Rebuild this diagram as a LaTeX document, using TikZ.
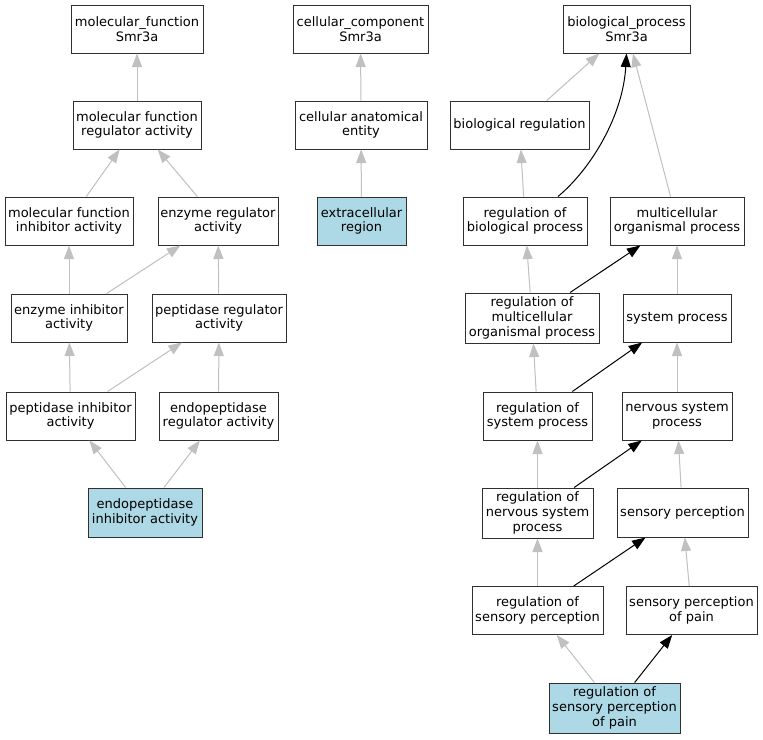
\documentclass[tikz,border=0pt]{standalone}
\usepackage{fontspec}
\setmainfont{DejaVu Sans}
\usetikzlibrary{arrows.meta,calc}
\definecolor{edgegray}{HTML}{C0C0C0}
\definecolor{hilite}{HTML}{ADD8E6}
\definecolor{boxline}{HTML}{303030}
\begin{document}
\begin{tikzpicture}[x=1pt,y=-1pt,
  box/.style={draw=boxline, line width=1pt, fill=white, rectangle, inner sep=0pt, align=center,
    font=\fontsize{13}{14.7}\selectfont},
  hl/.style={box, fill=hilite},
  gedge/.style={draw=edgegray, line width=1pt, -{Triangle[length=13.5pt,width=10pt]}},
  bedge/.style={draw=black, line width=1pt, -{Triangle[length=13.5pt,width=10pt]}}]
\fill[white] (0,0) rectangle (763,739);
\useasboundingbox (0,0) rectangle (763,739);
% molecular function
\node[box, minimum width=132pt, minimum height=48pt] (mfS) at (137,29) {molecular\_function\\Smr3a};
\node[box, minimum width=128pt, minimum height=48pt] (mfreg) at (137,125) {molecular function\\regulator activity};
\node[box, minimum width=128pt, minimum height=48pt] (mfinh) at (69,221) {molecular function\\inhibitor activity};
\node[box, minimum width=120pt, minimum height=48pt] (enzreg) at (218,221) {enzyme regulator\\activity};
\node[box, minimum width=116pt, minimum height=48pt] (enzinh) at (69,318) {enzyme inhibitor\\activity};
\node[box, minimum width=134pt, minimum height=48pt] (pepreg) at (219,318) {peptidase regulator\\activity};
\node[box, minimum width=129pt, minimum height=48pt] (pepinh) at (70.5,416) {peptidase inhibitor\\activity};
\node[box, minimum width=119pt, minimum height=48pt] (endoreg) at (218.5,416) {endopeptidase\\regulator activity};
\node[hl, minimum width=114pt, minimum height=49pt] (endoinh) at (145,512.5) {endopeptidase\\inhibitor activity};
% cellular component
\node[box, minimum width=135pt, minimum height=48pt] (ccS) at (360.5,29) {cellular\_component\\Smr3a};
\node[box, minimum width=132pt, minimum height=48pt] (cae) at (361,125) {cellular anatomical\\entity};
\node[hl, minimum width=89pt, minimum height=48pt] (ext) at (361.5,221) {extracellular\\region};
% biological process
\node[box, minimum width=127pt, minimum height=48pt] (bpS) at (626.5,29) {biological\_process\\Smr3a};
\node[box, minimum width=139pt, minimum height=48pt] (bioreg) at (519.5,125) {biological regulation};
\node[box, minimum width=124pt, minimum height=48pt] (regbp) at (525,221) {regulation of\\biological process};
\node[box, minimum width=134pt, minimum height=48pt] (mop) at (677,221) {multicellular\\organismal process};
\node[box, minimum width=134pt, minimum height=50pt] (regmop) at (532,318) {regulation of\\multicellular\\organismal process};
\node[box, minimum width=108pt, minimum height=48pt] (sysp) at (677,318) {system process};
\node[box, minimum width=109pt, minimum height=48pt] (regsys) at (537.5,416) {regulation of\\system process};
\node[box, minimum width=110pt, minimum height=48pt] (nsp) at (677,416) {nervous system\\process};
\node[box, minimum width=111pt, minimum height=50pt] (regnsp) at (537.5,513) {regulation of\\nervous system\\process};
\node[box, minimum width=131pt, minimum height=49pt] (sp) at (682.5,512.5) {sensory perception};
\node[box, minimum width=131pt, minimum height=48pt] (regsp) at (537.5,610.5) {regulation of\\sensory perception};
\node[box, minimum width=131pt, minimum height=48pt] (spp) at (691.5,610.5) {sensory perception\\of pain};
\node[hl, minimum width=131pt, minimum height=50pt] (regspp) at (614.5,708) {regulation of\\sensory perception\\of pain};
% edges: molecular function
\draw[gedge] (mfreg) -- (mfS);
\draw[gedge] (mfinh) -- (mfreg);
\draw[gedge] (enzreg) -- (mfreg);
\draw[gedge] (enzinh) -- (mfinh);
\draw[gedge] (enzinh) -- (enzreg);
\draw[gedge] (pepreg) -- (enzreg);
\draw[gedge] (pepinh) -- (enzinh);
\draw[gedge] (pepinh) -- (pepreg);
\draw[gedge] (endoreg) -- (pepreg);
\draw[gedge] (endoinh) -- (pepinh);
\draw[gedge] (endoinh) -- (endoreg);
% edges: cellular component
\draw[gedge] (cae) -- (ccS);
\draw[gedge] (ext) -- (cae);
% edges: biological process
\draw[gedge] (bioreg) -- (bpS);
\draw[bedge] ($(regbp.north)+(33,0)$) .. controls (592,168) and (623,115) .. (bpS.south);
\draw[gedge] (mop) -- (bpS);
\draw[gedge] (regbp) -- (bioreg);
\draw[gedge] (regmop) -- (regbp);
\draw[bedge] (regmop) -- (mop);
\draw[gedge] (sysp) -- (mop);
\draw[gedge] (regsys) -- (regmop);
\draw[bedge] (regsys) -- (sysp);
\draw[gedge] (nsp) -- (sysp);
\draw[gedge] (regnsp) -- (regsys);
\draw[bedge] (regnsp) -- (nsp);
\draw[gedge] (sp) -- (nsp);
\draw[gedge] (regsp) -- (regnsp);
\draw[bedge] (regsp) -- (sp);
\draw[gedge] (spp) -- (sp);
\draw[gedge] (regspp) -- (regsp);
\draw[bedge] (regspp) -- (spp);
\end{tikzpicture}
\end{document}
